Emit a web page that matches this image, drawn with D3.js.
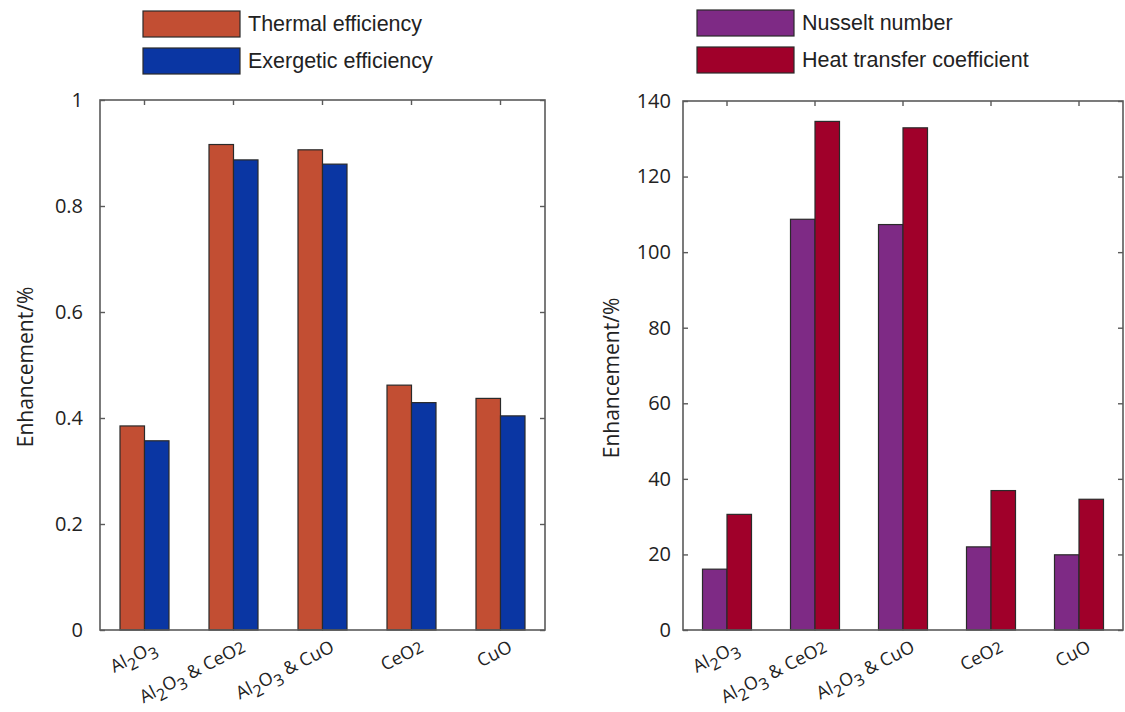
<!DOCTYPE html>
<html>
<head>
<meta charset="utf-8">
<script src="https://cdn.jsdelivr.net/npm/d3@7"></script>
<style>
  html, body { margin: 0; padding: 0; background: #fff; }
  svg { display: block; }
</style>
</head>
<body>
<svg id="chart" width="1125" height="712"></svg>
<script>
// ---- Data ----
const categories = ["Al2O3", "Al2O3 & CeO2", "Al2O3 & CuO", "CeO2", "CuO"];

const leftSeriesNames = ["Thermal efficiency", "Exergetic efficiency"];
const thermalEfficiency = [0.385, 0.916, 0.906, 0.462, 0.437];
const exergeticEfficiency = [0.357, 0.887, 0.879, 0.429, 0.404];
const leftTicks = [0, 0.2, 0.4, 0.6, 0.8, 1];
const leftTickLabels = ["0", "0.2", "0.4", "0.6", "0.8", "1"];

const rightSeriesNames = ["Nusselt number", "Heat transfer coefficient"];
const nusseltNumber = [16.1, 108.7, 107.3, 22.0, 19.9];
const heatTransferCoefficient = [30.6, 134.6, 132.9, 36.9, 34.6];
const rightTicks = [0, 20, 40, 60, 80, 100, 120, 140];
const rightTickLabels = ["0", "20", "40", "60", "80", "100", "120", "140"];

const yLabel = "Enhancement/%";

// ---- Drawing ----
const svg = d3.select("#chart");
const axisColor = "#5a5a5a";
const textColor = "#222";
const tickFont = "'Open Sans', 'DejaVu Sans', sans-serif";
const legendFont = "'Liberation Sans', Arial, sans-serif";

function renderLabel(sel, label) {
  let parts = [];
  let s = label;
  let i = 0;
  while (i < s.length) {
    if (s.startsWith("Al2O3", i)) {
      parts.push({t: "Al"}, {t: "2", sub: true}, {t: "O"}, {t: "3", sub: true});
      i += 5;
    } else if (s.startsWith("CeO2", i)) {
      parts.push({t: "CeO"}, {t: "2", small: true});
      i += 4;
    } else {
      let j = i;
      while (j < s.length && !s.startsWith("Al2O3", j) && !s.startsWith("CeO2", j)) j++;
      parts.push({t: s.slice(i, j)});
      i = j;
    }
  }
  let shifted = false;
  parts.forEach(p => {
    const ts = sel.append("tspan").text(p.t);
    if (p.sub) {
      ts.attr("font-size", "0.9em").attr("dy", shifted ? 0 : 6);
      shifted = true;
    } else {
      if (shifted) { ts.attr("dy", -6); shifted = false; }
      if (p.small) ts.attr("font-size", "0.9em");
    }
  });
}

function drawPanel(cfg) {
  const g = svg.append("g");
  const x = d3.scaleBand().domain(categories).range([cfg.x0, cfg.x1]).padding(0);
  const y = d3.scaleLinear().domain(cfg.domain).range([cfg.yBottom, cfg.yTop]);
  const inner = d3.scaleBand().domain(cfg.names).range([-24.5, 24.5]).padding(0);

  cfg.names.forEach((name, si) => {
    g.selectAll(null)
      .data(cfg.values[si])
      .enter().append("rect")
      .attr("x", (d, i) => x(categories[i]) + x.bandwidth() / 2 + inner(name))
      .attr("y", d => y(d))
      .attr("width", inner.bandwidth())
      .attr("height", d => y(cfg.domain[0]) - y(d))
      .attr("fill", cfg.colors[si])
      .attr("stroke", "#2a2a2a")
      .attr("stroke-width", 1.2);
  });

  g.append("rect")
    .attr("x", cfg.x0).attr("y", cfg.yTop)
    .attr("width", cfg.x1 - cfg.x0).attr("height", cfg.yBottom - cfg.yTop)
    .attr("fill", "none").attr("stroke", axisColor).attr("stroke-width", 1.6);

  const leftAxis = d3.axisLeft(y).tickValues(cfg.ticks)
    .tickFormat((d, i) => cfg.tickLabels[i]).tickSizeInner(-5).tickSizeOuter(0).tickPadding(cfg.tickPad);
  const la = g.append("g").attr("transform", `translate(${cfg.x0},0)`).call(leftAxis);
  la.select(".domain").remove();
  la.selectAll("line").attr("stroke", axisColor).attr("stroke-width", 1.4);
  la.selectAll("text").attr("font-family", tickFont).attr("font-size", 20).attr("fill", textColor);

  const rightAxis = d3.axisRight(y).tickValues(cfg.ticks).tickFormat("").tickSizeInner(-5).tickSizeOuter(0);
  const ra = g.append("g").attr("transform", `translate(${cfg.x1},0)`).call(rightAxis);
  ra.select(".domain").remove();
  ra.selectAll("line").attr("stroke", axisColor).attr("stroke-width", 1.4);

  const topAxis = d3.axisTop(x).tickFormat("").tickSizeInner(-5).tickSizeOuter(0);
  const ta = g.append("g").attr("transform", `translate(0,${cfg.yTop})`).call(topAxis);
  ta.select(".domain").remove();
  ta.selectAll("line").attr("stroke", axisColor).attr("stroke-width", 1.4);

  categories.forEach(c => {
    const cx = x(c) + x.bandwidth() / 2;
    const t = g.append("text")
      .attr("transform", `translate(${cx + 13},${cfg.yBottom + 21}) rotate(-27)`)
      .attr("text-anchor", "end")
      .attr("font-family", tickFont).attr("font-size", 18).attr("fill", textColor);
    renderLabel(t, c);
  });

  g.append("text")
    .attr("transform", `translate(${cfg.yLabelX},${cfg.yLabelY}) rotate(-90)`)
    .attr("text-anchor", "middle")
    .attr("font-family", tickFont).attr("font-size", 21).attr("fill", textColor)
    .text(yLabel);

  cfg.names.forEach((name, si) => {
    const ly = cfg.legendY + si * 37;
    g.append("rect")
      .attr("x", cfg.legendX).attr("y", ly)
      .attr("width", 97).attr("height", 26)
      .attr("fill", cfg.colors[si]).attr("stroke", "#2a2a2a").attr("stroke-width", 1.2);
    g.append("text")
      .attr("x", cfg.legendX + 105).attr("y", ly + 20)
      .attr("font-family", legendFont).attr("font-size", 21.5).attr("fill", textColor)
      .text(name);
  });
}

drawPanel({
  x0: 100, x1: 545, yTop: 100, yBottom: 630,
  domain: [0, 1], ticks: leftTicks, tickLabels: leftTickLabels,
  names: leftSeriesNames, values: [thermalEfficiency, exergeticEfficiency],
  colors: ["#C24E33", "#0A36A3"], tickPad: 17,
  yLabelX: 33, yLabelY: 367, legendX: 143, legendY: 11
});

drawPanel({
  x0: 683, x1: 1123, yTop: 101, yBottom: 630,
  domain: [0, 140], ticks: rightTicks, tickLabels: rightTickLabels,
  names: rightSeriesNames, values: [nusseltNumber, heatTransferCoefficient],
  colors: ["#7E2A85", "#A0002A"], tickPad: 12,
  yLabelX: 619, yLabelY: 378, legendX: 697, legendY: 10
});
</script>
</body>
</html>
